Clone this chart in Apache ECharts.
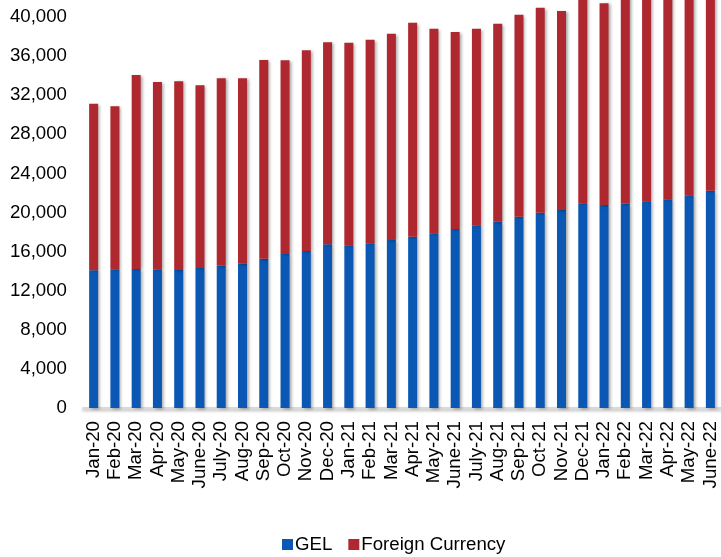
<!DOCTYPE html>
<html>
<head>
<meta charset="utf-8">
<script src="https://cdn.jsdelivr.net/npm/echarts@6/dist/echarts.min.js"></script>
<style>
html,body{margin:0;padding:0;background:#fff;}
#chart{width:721px;height:557px;}
</style>
</head>
<body>
<div id="chart"></div>
<script>
const categories = ["Jan-20","Feb-20","Mar-20","Apr-20","May-20","June-20","July-20","Aug-20","Sep-20","Oct-20","Nov-20","Dec-20","Jan-21","Feb-21","Mar-21","Apr-21","May-21","June-21","July-21","Aug-21","Sep-21","Oct-21","Nov-21","Dec-21","Jan-22","Feb-22","Mar-22","Apr-22","May-22","June-22"];
const gel = [14090,14190,14220,14190,14120,14320,14560,14760,15280,15750,16060,16740,16640,16850,17190,17530,17870,18310,18690,19060,19570,19980,20260,20940,20770,20900,21150,21350,21760,22230];
const foreign = [17040,16670,19850,19160,19300,18690,19170,18970,20320,19820,20530,20670,20730,20830,21100,21890,20930,20150,20110,20260,20670,20970,20350,21160,20630,21400,21550,21650,21640,21670];
const yTicks = [0,4000,8000,12000,16000,20000,24000,28000,32000,36000,40000];

const chart = echarts.init(document.getElementById('chart'), null, {renderer:'canvas'});
const fontFam = '"Liberation Sans", Arial, sans-serif';
const fs = 18.67;
const shadow = {shadowBlur:3, shadowColor:'rgba(0,0,0,0.35)', shadowOffsetX:2, shadowOffsetY:1};
chart.setOption({
  animation:false,
  backgroundColor:'#fff',
  grid:{left:83, top:17, bottom:149, width:642, containLabel:false},
  legend:{
    top:535, left:282, padding:0,
    itemWidth:11, itemHeight:11, itemGap:16,
    icon:'rect',
    textStyle:{fontFamily:fontFam, fontSize:fs, color:'#000', padding:[0,0,0,-3]},
    data:['GEL','Foreign Currency']
  },
  xAxis:{
    type:'category', data:categories,
    axisLine:{lineStyle:{color:'#d9d9d9', width:2, shadowBlur:3, shadowColor:'rgba(0,0,0,0.3)', shadowOffsetY:2}},
    axisTick:{show:false},
    axisLabel:{rotate:90, interval:0, margin:13, fontFamily:fontFam, fontSize:fs, color:'#000'}
  },
  yAxis:{
    type:'value', min:yTicks[0], max:yTicks[yTicks.length-1], interval:yTicks[1]-yTicks[0],
    splitLine:{show:false}, axisLine:{show:false}, axisTick:{show:false},
    axisLabel:{margin:16, fontFamily:fontFam, fontSize:fs, color:'#000',
      formatter:v=>v.toLocaleString('en-US')}
  },
  series:[
    {name:'GEL', type:'bar', stack:'t', data:gel, barWidth:9, clip:false,
      itemStyle:Object.assign({color:'#0A58B4'}, shadow)},
    {name:'Foreign Currency', type:'bar', stack:'t', data:foreign, barWidth:9, clip:false,
      itemStyle:Object.assign({color:'#B0282F'}, shadow)}
  ]
});
</script>
</body>
</html>
